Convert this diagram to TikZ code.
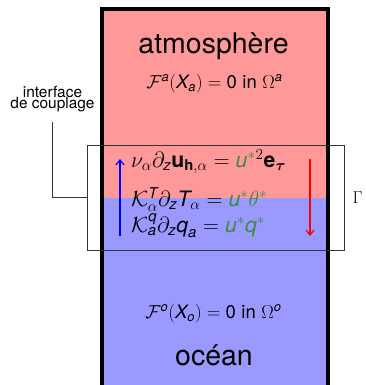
\documentclass[tikz,border=0pt]{standalone}
\usepackage{amsmath}
\usepackage{fontspec}
\setsansfont{TeX Gyre Heros}
\usetikzlibrary{arrows.meta}
\definecolor{atmpink}{RGB}{255,153,153}
\definecolor{ocnblue}{RGB}{153,153,255}
\definecolor{ustar}{RGB}{60,140,60}
\newcommand{\si}[1]{\text{\sffamily\itshape #1}}
\newcommand{\su}[1]{\text{\sffamily #1}}
\newcommand{\sbf}[1]{\text{\sffamily\bfseries #1}}
\tikzset{
  bigtxt/.style={font=\sffamily\fontsize{28.6}{32}\selectfont, inner sep=0pt, anchor=base},
  eqtxt/.style={font=\fontsize{20}{24}\selectfont, inner sep=0pt, scale=1.065, transform shape},
  smalleq/.style={font=\fontsize{17}{20}\selectfont, inner sep=0pt, anchor=base, scale=1.09, transform shape},
  lbltxt/.style={font=\sffamily\fontsize{15.5}{11}\selectfont, inner sep=0pt, anchor=base},
  flux/.style={line width=1.2bp, -{Straight Barb[length=5bp,width=8bp]}},
}
\begin{document}
\begin{tikzpicture}[x=1bp,y=-1bp]
\clip (0,0) rectangle (366,385);
\fill[white] (0,0) rectangle (366,385);
% domains
\fill[atmpink] (102,9) rectangle (328,197.5);
\fill[ocnblue] (102,197.5) rectangle (328,392);
\draw[line width=4bp] (102,395) -- (102,9) -- (328,9) -- (328,395);
% interface box
\node[draw=black!80, line width=0.7bp, minimum width=257bp, minimum height=105bp, inner sep=0pt] (ibox) at (215.5,197.5) {};
\node[lbltxt] (lblA) at (52.5,97.3) {interface};
\node[lbltxt] (lblB) at (52.5,108.3) {de couplage};
\coordinate (lblend) at (52.5,122);
\draw[line width=0.7bp, black!80] (ibox.west) -| (lblend);
\node[font=\fontsize{18}{20}\selectfont, inner sep=0pt] (gam) at (357.5,198) {$\Gamma$};
% flux arrows
\coordinate (bA) at (120,236);
\coordinate (bB) at (120,159);
\coordinate (rA) at (310,159);
\coordinate (rB) at (310,236);
\draw[flux, blue] (bA) -- (bB);
\draw[flux, red] (rA) -- (rB);
% texts
\node[bigtxt] (atm) at (213.5,53.3) {atmosphère};
\node[smalleq] (fa) at (214.5,88.3) {$\mathcal{F}^{\si{a}}(\si{X}_{\si{a}}) = \su{0}\ \su{in}\ \Omega^{\si{a}}$};
\node[eqtxt, anchor=base west] (e1) at (131,167) {$\nu_\alpha\partial_{\si{z}}\sbf{u}_{\sbf{h},\alpha} = {\color{ustar}\si{u}^{*}}^{2}\sbf{e}_{\boldsymbol{\tau}}$};
\node[eqtxt, anchor=base west] (e2) at (131,206) {$\mathcal{K}^{\si{T}}_{\alpha}\partial_{\si{z}}\si{T}_{\alpha} = {\color{ustar}\si{u}^{*}\theta^{*}}$};
\node[eqtxt, anchor=base west] (e3) at (131,232) {$\mathcal{K}^{\si{q}}_{\si{a}}\partial_{\si{z}}\si{q}_{\si{a}} = {\color{ustar}\si{u}^{*}\si{q}^{*}}$};
\node[smalleq] (fo) at (213.5,318.3) {$\mathcal{F}^{\si{o}}(\si{X}_{\si{o}}) = \su{0}\ \su{in}\ \Omega^{\si{o}}$};
\node[bigtxt] (ocn) at (214,365) {océan};
\end{tikzpicture}
\end{document}
